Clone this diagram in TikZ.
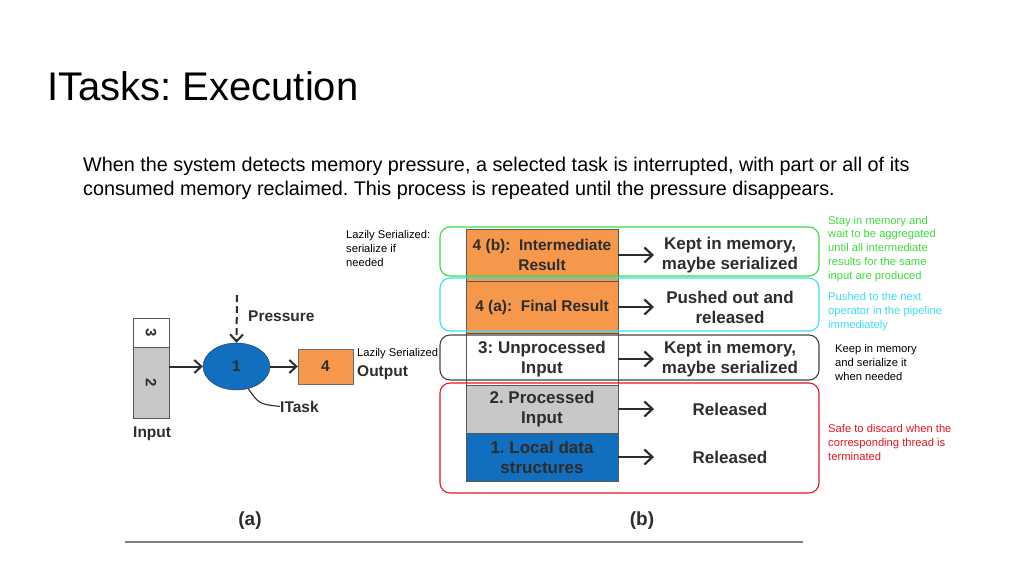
\documentclass[tikz,border=0pt]{standalone}
\usepackage{fontspec}
\setmainfont{Liberation Sans}
\usepackage{xcolor}
\usepackage{tikz}
\usetikzlibrary{arrows.meta,calc,positioning,shapes.geometric}
\definecolor{resultorange}{RGB}{246,152,76}
\definecolor{taskblue}{RGB}{18,110,190}
\definecolor{processedgray}{RGB}{200,200,200}
\definecolor{inkdark}{RGB}{45,45,45}
\definecolor{notegreen}{RGB}{60,220,60}
\definecolor{notecyan}{RGB}{60,220,240}
\definecolor{notered}{RGB}{232,20,30}
\frenchspacing
\tikzset{
  rowbox/.style={draw=inkdark!80,minimum width=152pt,inner sep=0pt,outer sep=0pt,
    align=center,text=inkdark},
  fatetext/.style={align=center,text=inkdark,inner sep=0pt,font=\bfseries\fontsize{17}{20}\selectfont},
  fatearrow/.style={draw=inkdark,line width=2.2pt,-{Straight Barb[length=8pt,width=15pt]}},
  flowarrow/.style={draw=inkdark,line width=2pt,-{Straight Barb[length=7pt,width=13pt]}},
  note/.style={anchor=base west,align=left,inner sep=0pt,font=\fontsize{11.2}{13.7}\selectfont},
  figlabel/.style={anchor=base west,inner sep=0pt,text=inkdark,font=\bfseries\fontsize{15.5}{18}\selectfont},
  groupbox/.style={rounded corners=10pt,line width=1.1pt}
}
\newcommand{\memrow}[7]{%
  \node[rowbox,fill=#4,minimum height=#3,anchor=north west,font=\bfseries\fontsize{#5}{20}\selectfont] (#1) at (466,#2) {#6};%
  \coordinate (#1tip) at ($(#1.east)+(36,0)$);%
  \draw[fatearrow] (#1.east) -- (#1tip);%
  \node[fatetext] (#1fate) at (#1.east -| fatecol) {#7};%
}

\begin{document}
\begin{tikzpicture}[x=1pt,y=-1pt]
  \useasboundingbox (0,0) rectangle (1024,576);
  \node[anchor=base west,inner sep=0pt,font=\fontsize{40}{46}\selectfont] (title) at (47,100) {ITasks: Execution};
  \node[anchor=base west,align=left,inner sep=0pt,font=\fontsize{19.8}{24}\selectfont] (intro) at (83,195)
    {When the system detects memory pressure, a selected task is interrupted, with part or all of its\\
     consumed memory reclaimed. This process is repeated until the pressure disappears.};

  % (a)
  \node[draw=inkdark!80,fill=white,minimum width=36pt,minimum height=29pt,anchor=north west,inner sep=0pt,outer sep=0pt,
    font=\bfseries\fontsize{15}{18}\selectfont,text=inkdark] (in3) at (133,318) {\rotatebox{-90}{3}};
  \node[draw=inkdark!80,fill=processedgray,minimum width=36pt,minimum height=71pt,anchor=north,inner sep=0pt,outer sep=0pt,
    font=\bfseries\fontsize{15}{18}\selectfont,text=inkdark] (in2) at (in3.south) {\rotatebox{-90}{2}};
  \node[figlabel] (inlabel) at (133,437) {Input};
  \node[ellipse,draw=inkdark!80!taskblue,fill=taskblue,minimum width=67pt,minimum height=47pt,inner sep=0pt,
    font=\bfseries\fontsize{15.5}{18}\selectfont,text=inkdark] (task) at (236.5,366.5) {1};
  \node[draw=inkdark!70,fill=resultorange,minimum width=55pt,minimum height=35pt,inner sep=0pt,
    font=\bfseries\fontsize{15.5}{18}\selectfont,text=inkdark] (out) at (325.5,366.5) {4};
  \draw[flowarrow] (task.west -| in2.east) -- (task.west);
  \draw[flowarrow] (task.east) -- (out.west);
  \coordinate (press) at (237,295);
  \draw[flowarrow,dash pattern=on 7pt off 4pt] (press) -- (task.north);
  \node[figlabel] (presslabel) at (248,321) {Pressure};
  \node[figlabel] (itask) at (280,412) {ITask};
  \draw[inkdark,line width=1.1pt] (task.-62) .. controls (259,404) .. (itask.west);
  \node[note] (lazyout) at (357,356) {Lazily Serialized};
  \node[figlabel] (outlabel) at (357,376) {Output};
  \node[anchor=base,inner sep=0pt,text=inkdark,font=\bfseries\fontsize{19}{22}\selectfont] (capa) at (250,525) {(a)};

  % (b)
  \coordinate (fatecol) at (730,0);
  \memrow{r4b}{229}{52pt}{resultorange}{15.5}{4 (b):\ \ Intermediate\\Result}{Kept in memory,\\maybe serialized}
  \memrow{r4a}{281}{52pt}{resultorange}{15.5}{4 (a):\ \ Final Result}{Pushed out and\\released}
  \memrow{r3}{333}{52pt}{white}{17}{3: Unprocessed\\Input}{Kept in memory,\\maybe serialized}
  \memrow{r2}{385}{48pt}{processedgray}{17}{2. Processed\\Input}{Released}
  \memrow{r1}{433}{48pt}{taskblue}{17}{1. Local data\\structures}{Released}
  \draw[groupbox,notegreen] (440,227) rectangle (819,276);
  \draw[groupbox,notecyan] (440,278) rectangle (819,331);
  \draw[groupbox,inkdark!90] (440,335) rectangle (819,380);
  \draw[groupbox,notered] (440,383) rectangle (819,493);
  \node[anchor=base,inner sep=0pt,text=inkdark,font=\bfseries\fontsize{19}{22}\selectfont] (capb) at (642,525) {(b)};

  % notes
  \node[note] (lazynote) at (346,266) {Lazily Serialized:\\serialize if\\needed};
  \node[note,text=notegreen] (greennote) at (828,279) {Stay in memory and\\wait to be aggregated\\until all intermediate\\results for the same\\input are produced};
  \node[note,text=notecyan] (cyannote) at (828,328) {Pushed to the next\\operator in the pipeline\\immediately};
  \node[note] (blacknote) at (835,380) {Keep in memory\\and serialize it\\when needed};
  \node[note,text=notered] (rednote) at (828,460) {Safe to discard when the\\corresponding thread is\\terminated};

  \draw[gray,line width=2pt] (125,542) -- (803,542);
\end{tikzpicture}
\end{document}
